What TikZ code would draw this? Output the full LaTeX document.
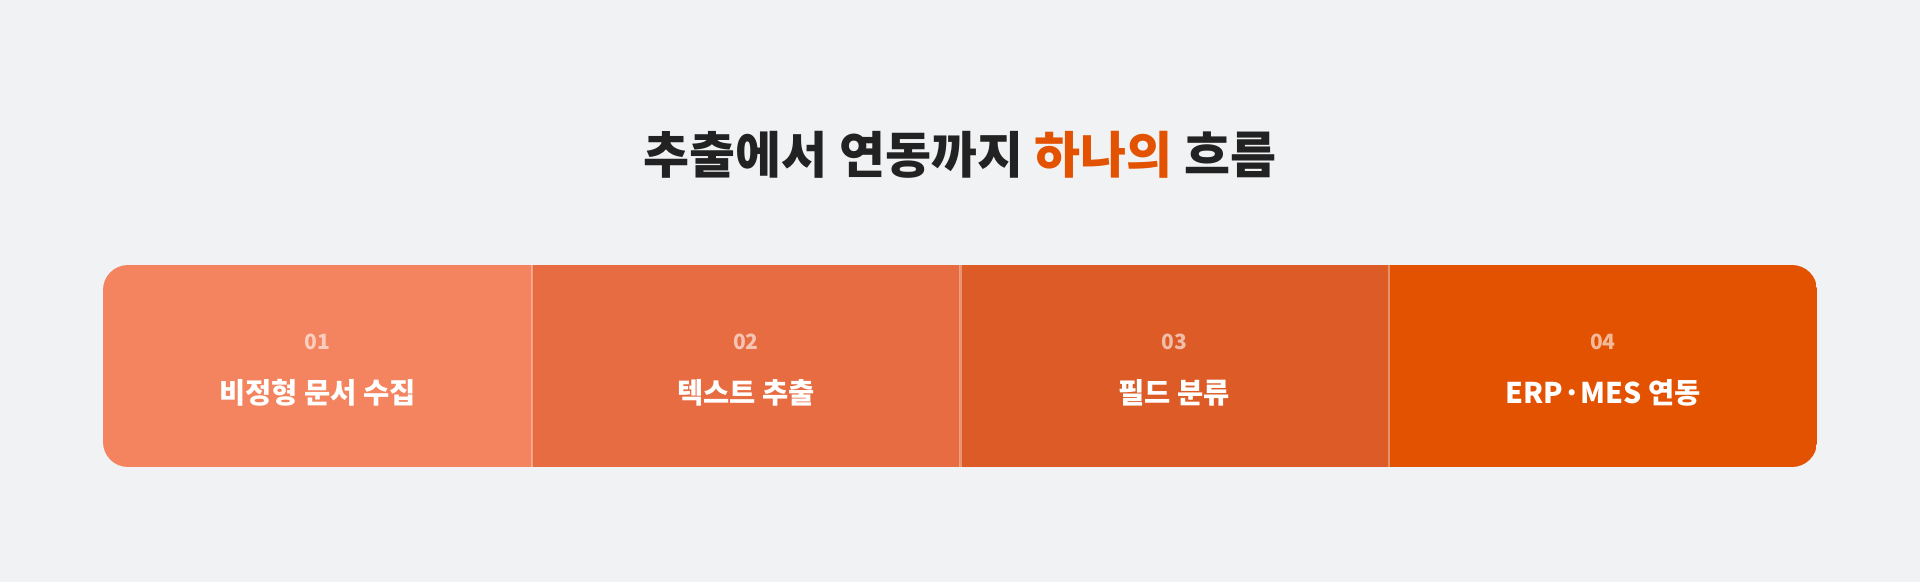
\documentclass[tikz,border=0pt]{standalone}
\usepackage{fontspec}
\setmainfont{Noto Sans CJK KR}
\usetikzlibrary{positioning}

\definecolor{pageBg}{HTML}{F1F2F4}
\definecolor{titleInk}{HTML}{222222}
\definecolor{accent}{HTML}{E35200}
\definecolor{stepA}{HTML}{F4845F}
\definecolor{stepB}{HTML}{E86C42}
\definecolor{stepC}{HTML}{DC5B27}
\definecolor{stepD}{HTML}{E35200}

\begin{document}
\begin{tikzpicture}[x=1pt, y=1pt]
    \useasboundingbox (0,0) rectangle (1920,582);
    \fill[pageBg] (0,0) rectangle (1920,582);

    \tikzstyle{heading} = [
        inner sep = 0,
        text = titleInk,
        font = \bfseries\fontsize{50}{60}\selectfont
    ]
    \tikzstyle{segment} = [
        anchor = south west,
        inner sep = 0,
        minimum width = 428.5,
        minimum height = 202
    ]
    \tikzstyle{number} = [
        inner sep = 0,
        text = white, text opacity = 0.6,
        font = \bfseries\fontsize{21}{24}\selectfont
    ]
    \tikzstyle{label} = [
        inner sep = 0,
        text = white,
        font = \bfseries\fontsize{28.5}{34}\selectfont
    ]
    \tikzstyle{divider} = [white, draw opacity = 0.35, line width = 2.2]

    \node [heading] (title) at (960,427) {추출에서 연동까지 {\color{accent}하나의} 흐름};

    \begin{scope}
        \clip[rounded corners=25] (103,115) rectangle (1817,317);
        \foreach \i/\col in {1/stepA, 2/stepB, 3/stepC, 4/stepD} {
            \node [segment, fill=\col] (seg\i) at ({103+(\i-1)*428.5},115) {};
        }
    \end{scope}

    \foreach \i/\num/\txt in {1/01/비정형 문서 수집, 2/02/텍스트 추출, 3/03/필드 분류, 4/04/ERP·MES 연동} {
        \node [number] (num\i) at ([yshift=24]seg\i.center) {\num};
        \node [label] (lbl\i) at ([yshift=-27]seg\i.center) {\txt};
    }

    % light seams between the steps
    \foreach \i in {1,2,3} {
        \draw [divider] (seg\i.north east) -- (seg\i.south east);
    }
\end{tikzpicture}
\end{document}
